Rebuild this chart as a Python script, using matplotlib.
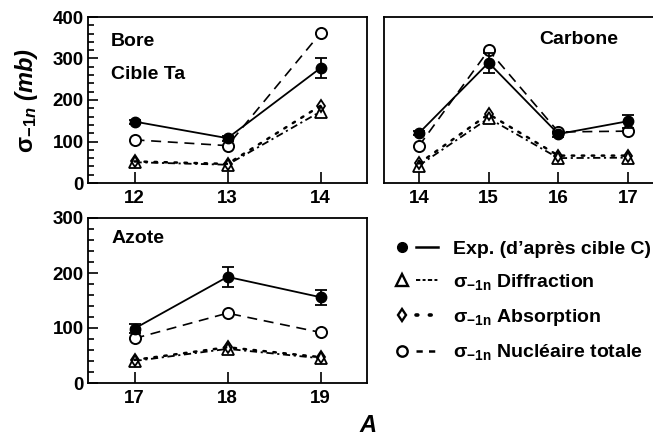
import matplotlib
matplotlib.use("Agg")
import matplotlib.pyplot as plt
from matplotlib.lines import Line2D
from matplotlib.legend_handler import HandlerTuple
from matplotlib.ticker import MultipleLocator

plt.rcParams['font.family'] = ['Liberation Sans', 'DejaVu Sans']
plt.rcParams['font.weight'] = 'bold'
plt.rcParams['mathtext.fontset'] = 'custom'
plt.rcParams['mathtext.rm'] = 'Liberation Sans'
plt.rcParams['mathtext.it'] = 'Liberation Sans:italic:bold'
plt.rcParams['mathtext.bf'] = 'Liberation Sans:bold'

# ---- data ----
A_bore = [12, 13, 14]
bore_exp = [148, 108, 277]
bore_err = [5, 6, 24]
bore_total = [104, 90, 361]
bore_diff = [50, 44, 172]
bore_abs = [52, 46, 186]

A_carb = [14, 15, 16, 17]
carb_exp = [120, 290, 118, 149]
carb_err = [5, 24, 6, 16]
carb_total = [89, 320, 123, 125]
carb_diff = [42, 156, 60, 61]
carb_abs = [47, 166, 66, 66]

A_azote = [17, 18, 19]
az_exp = [99, 193, 156]
az_err = [8, 18, 14]
az_total = [81, 127, 92]
az_diff = [40, 62, 45]
az_abs = [42, 65, 47]

legend_labels = ["Exp. (d\u2019apr\u00e8s cible C)",
                 r"$\mathrm{\sigma}_{\mathbf{-1n}}$" + " Diffraction",
                 r"$\mathrm{\sigma}_{\mathbf{-1n}}$" + " Absorption",
                 r"$\mathrm{\sigma}_{\mathbf{-1n}}$" + " Nucl\u00e9aire totale"]

W, H = 653, 437
fig = plt.figure(figsize=(W / 100, H / 100), dpi=100)


def px(l, t, r, b):
    return [l / W, 1 - b / H, (r - l) / W, (b - t) / H]


ax1 = fig.add_axes(px(88, 17, 367, 183))
ax2 = fig.add_axes(px(384, 17, 663, 183))
ax3 = fig.add_axes(px(88, 218, 367, 383))

diff_ls = (0, (4, 2, 1.2, 2))
abs_ls = (0, (1, 3))
FS = 14
TFS = 13.5


def draw(ax, A, exp, err, tot, diff, absn):
    ax.plot(A, diff, color='black', lw=1.3, ls=diff_ls, marker='^', ms=8,
            mfc='white', mec='black', mew=1.3, zorder=2)
    ax.plot(A, absn, color='black', lw=1.8, ls=abs_ls, marker='d', ms=6,
            mfc='none', mec='black', mew=1.3, dash_capstyle='round', zorder=3)
    ax.plot(A, tot, color='black', lw=1.2, ls=(0, (6, 4)), marker='o', ms=8,
            mfc='white', mec='black', mew=1.4, zorder=4)
    ax.errorbar(A, exp, yerr=err, color='black', lw=1.3, marker='o', ms=7.5,
                mfc='black', mec='black', capsize=4.5, capthick=1.3,
                elinewidth=1.3, zorder=5)
    for s in ax.spines.values():
        s.set_linewidth(1.3)
    ax.tick_params(axis='both', which='both', direction='in', width=1.2,
                   labelsize=TFS, top=False, right=False)
    ax.tick_params(axis='x', which='major', length=8, pad=5)
    ax.tick_params(axis='y', which='major', length=7.5, pad=3)
    ax.tick_params(axis='y', which='minor', length=4.5)
    ax.yaxis.set_minor_locator(MultipleLocator(20))
    ax.yaxis.set_major_locator(MultipleLocator(100))
    ax.set_xticks(A)
    for lab in ax.get_xticklabels() + ax.get_yticklabels():
        lab.set_fontweight('bold')


draw(ax1, A_bore, bore_exp, bore_err, bore_total, bore_diff, bore_abs)
ax1.set_xlim(11.5, 14.5)
ax1.set_ylim(0, 400)

draw(ax2, A_carb, carb_exp, carb_err, carb_total, carb_diff, carb_abs)
ax2.set_xlim(13.5, 17.5)
ax2.set_ylim(0, 400)
ax2.tick_params(axis='y', which='both', left=False, labelleft=False)

draw(ax3, A_azote, az_exp, az_err, az_total, az_diff, az_abs)
ax3.set_xlim(16.5, 19.5)
ax3.set_ylim(0, 300)

ax1.text(0.083, 0.855, "Bore", transform=ax1.transAxes, fontsize=FS,
         fontweight='bold', va='center')
ax1.text(0.083, 0.655, "Cible Ta", transform=ax1.transAxes, fontsize=FS,
         fontweight='bold', va='center')
ax2.text(0.555, 0.865, "Carbone", transform=ax2.transAxes, fontsize=FS,
         fontweight='bold', va='center')
ax3.text(0.083, 0.875, "Azote", transform=ax3.transAxes, fontsize=FS,
         fontweight='bold', va='center')

fig.text(26 / W, 1 - 100 / H, r"$\mathrm{\sigma}_{-1n}$" + " (mb)", rotation=90,
         fontsize=17, fontweight='bold', style='italic', ha='center', va='center')
fig.text(368 / W, 1 - 425 / H, "A", fontsize=17, fontweight='bold',
         style='italic', ha='center', va='center')

# legend
h_exp = (Line2D([], [], ls='none', marker='o', ms=7, mfc='black', mec='black'),
         Line2D([], [], color='black', lw=1.8))
h_diff = (Line2D([], [], ls='none', marker='^', ms=8, mfc='white', mec='black', mew=1.7),
          Line2D([], [], color='black', lw=1.4, ls=(0, (2.2, 1.2, 1.5, 1.2))))
h_abs = (Line2D([], [], ls='none', marker='d', ms=6.5, mfc='white', mec='black', mew=1.7),
         Line2D([], [], color='black', lw=2.6, ls=(0, (0.5, 3.2)), dash_capstyle='round'))
h_tot = (Line2D([], [], ls='none', marker='o', ms=7.5, mfc='white', mec='black', mew=1.7),
         Line2D([], [], color='black', lw=1.8, ls=(0, (2.5, 2.5))))
fig.legend([h_exp, h_diff, h_abs, h_tot], legend_labels,
           handler_map={tuple: HandlerTuple(ndivide=None, pad=0.2)},
           loc='upper left', bbox_to_anchor=(391 / W, 1 - 240 / H),
           frameon=False, fontsize=FS, handlelength=2.4, handletextpad=0.8,
           labelspacing=0.75, borderpad=0, borderaxespad=0)

fig.savefig("out.png", dpi=100)
